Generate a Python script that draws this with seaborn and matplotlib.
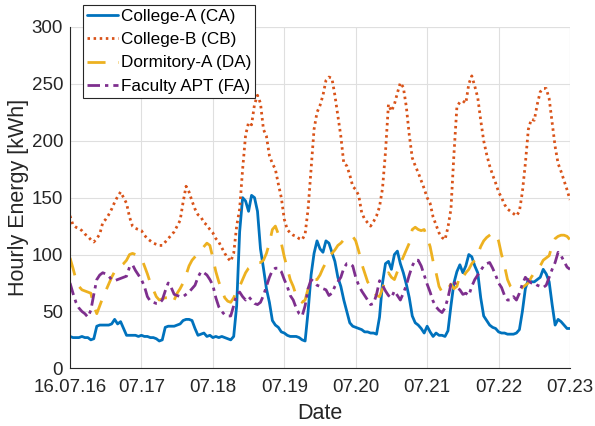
import numpy as np
import pandas as pd
import matplotlib
matplotlib.use("Agg")
import matplotlib.pyplot as plt
import seaborn as sns

# ---------------- data (hourly, 16.07.2016 00:00 .. 23.07.2016 00:00) ----------------
tick_labels = ["16.07.16", "07.17", "07.18", "07.19", "07.20", "07.21", "07.22", "07.23"]
y_ticks = [0, 50, 100, 150, 200, 250, 300]

college_a = [
    28, 27, 27, 27, 28, 27, 27, 25, 26, 37, 38, 38, 38, 38, 39, 43, 39, 41, 35, 29, 29, 29, 29, 28,
    29, 28, 28, 27, 27, 26, 24, 25, 36, 37, 37, 37, 38, 39, 42, 43, 43, 42, 35, 29, 30, 31, 28, 29,
    27, 28, 27, 28, 27, 26, 25, 28, 55, 120, 150, 147, 138, 152, 150, 138, 105, 88, 70, 58, 42, 38, 36, 32,
    31, 29, 28, 28, 28, 27, 25, 24, 50, 82, 101, 112, 105, 102, 112, 110, 102, 94, 80, 72, 60, 50, 40, 37,
    36, 35, 34, 32, 32, 31, 31, 30, 45, 75, 92, 94, 87, 100, 103, 92, 84, 74, 62, 46, 40, 38, 35, 31,
    37, 32, 28, 31, 29, 29, 28, 33, 55, 75, 85, 91, 84, 90, 100, 98, 90, 84, 62, 46, 42, 38, 36, 35,
    32, 31, 31, 30, 30, 30, 31, 34, 50, 70, 78, 76, 76, 78, 80, 87, 83, 76, 56, 38, 43, 41, 38, 35,
    35,
]
college_b = [
    134, 126, 124, 123, 121, 118, 116, 113, 111, 114, 118, 128, 131, 135, 140, 146, 151, 155, 150, 145, 133, 125, 123, 122,
    121, 117, 114, 112, 110, 109, 108, 108, 111, 114, 117, 120, 125, 130, 146, 160, 155, 147, 140, 135, 133, 128, 126, 122,
    119, 114, 111, 106, 101, 97, 94, 101, 125, 140, 175, 205, 216, 214, 232, 240, 233, 210, 204, 187, 180, 175, 162, 150,
    131, 122, 119, 117, 116, 114, 113, 118, 140, 175, 210, 225, 231, 240, 253, 256, 255, 240, 222, 204, 180, 178, 170, 160,
    157, 152, 137, 131, 128, 125, 129, 134, 142, 158, 190, 232, 226, 232, 242, 251, 247, 230, 205, 185, 178, 172, 165, 158,
    150, 145, 133, 126, 119, 115, 113, 124, 140, 188, 230, 234, 235, 233, 250, 257, 248, 238, 218, 200, 188, 178, 170, 163,
    155, 150, 144, 140, 138, 136, 134, 138, 155, 180, 210, 219, 218, 232, 243, 246, 246, 237, 216, 195, 180, 173, 165, 157,
    148,
]
dormitory_a = [
    97, 88, 78, 72, 69, 68, 67, 66, 55, 48, 55, 62, 68, 74, 80, 85, 88, 90, 92, 95, 100, 101, 100, 98,
    97, 90, 83, 75, 69, 63, 60, 61, 62, 62, 57, 60, 66, 70, 75, 82, 90, 95, 98, 101, 104, 107, 110, 108,
    97, 85, 76, 69, 62, 59, 58, 62, 68, 72, 78, 84, 88, 90, 92, 93, 93, 95, 101, 110, 122, 125, 118, 110,
    98, 88, 78, 72, 64, 60, 58, 60, 70, 78, 78, 78, 82, 88, 93, 98, 101, 104, 108, 110, 113, 115, 116, 116,
    112, 103, 92, 84, 76, 72, 67, 64, 63, 70, 78, 84, 80, 78, 85, 92, 98, 104, 110, 122, 124, 122, 121, 122,
    115, 107, 94, 84, 72, 67, 66, 70, 74, 70, 72, 82, 80, 84, 87, 92, 95, 100, 107, 112, 115, 117, 119, 118,
    112, 100, 90, 78, 72, 69, 69, 69, 71, 73, 75, 80, 84, 87, 90, 95, 97, 99, 108, 114, 116, 117, 117, 116,
    113,
]
faculty_apt = [
    75, 66, 58, 53, 50, 48, 45, 51, 65, 78, 82, 84, 83, 81, 78, 77, 78, 79, 80, 81, 89, 91, 86, 82,
    78, 72, 63, 59, 58, 57, 57, 60, 68, 75, 71, 65, 64, 63, 63, 65, 67, 70, 73, 80, 85, 84, 82, 78,
    73, 62, 54, 50, 47, 46, 46, 55, 65, 67, 63, 60, 63, 60, 57, 56, 58, 64, 72, 80, 86, 88, 88, 85,
    78, 72, 64, 60, 53, 48, 46, 55, 70, 78, 76, 73, 72, 70, 69, 64, 66, 72, 76, 80, 88, 92, 92, 90,
    80, 73, 68, 64, 60, 56, 57, 65, 77, 73, 68, 64, 62, 68, 64, 60, 66, 73, 82, 90, 95, 95, 90, 82,
    74, 67, 59, 54, 51, 49, 53, 62, 74, 77, 71, 69, 65, 66, 64, 72, 78, 82, 86, 90, 92, 93, 88, 82,
    75, 71, 64, 60, 60, 63, 60, 66, 74, 80, 77, 75, 75, 73, 72, 71, 73, 80, 87, 93, 102, 99, 94, 89,
    87,
]

series_names = ["College-A (CA)", "College-B (CB)", "Dormitory-A (DA)", "Faculty APT (FA)"]
series_values = [college_a, college_b, dormitory_a, faculty_apt]

# ---------------- styling ----------------
sns.set_theme(style="white")
plt.rcParams["font.family"] = ["Liberation Sans", "DejaVu Sans"]

colors = ["#0072BD", "#D95319", "#EDB120", "#7E2F8E"]
styles = ["-", (0, (0.9, 1.3)), (0, (6.5, 4.5)), (0, (4.5, 1.8, 1.2, 1.8))]
widths = [2.0, 2.0, 2.0, 2.0]

hours = np.arange(len(college_a))
df = pd.DataFrame({"hour": np.tile(hours, 4),
                   "value": np.concatenate(series_values),
                   "series": np.repeat(series_names, len(hours))})

fig = plt.figure(figsize=(5.95, 4.26), dpi=100)
ax = fig.add_axes([70 / 595, 1 - 368.3 / 426, 500 / 595, 341.3 / 426])

for name, c, ls, lw in zip(series_names, colors, styles, widths):
    sub = df[df["series"] == name]
    sns.lineplot(data=sub, x="hour", y="value", ax=ax, color=c, linestyle=ls,
                 linewidth=lw, label=name, estimator=None)

ax.set_xlim(0, 168)
ax.set_ylim(0, 300)
ax.set_xticks(np.arange(0, 169, 24))
ax.set_xticklabels(tick_labels)
ax.set_yticks(y_ticks)
ax.set_xlabel("Date", fontsize=15.5, color="#262626", labelpad=5)
ax.set_ylabel("Hourly Energy [kWh]", fontsize=15.5, color="#262626", labelpad=2)
ax.tick_params(axis="both", direction="in", length=5, width=0.8, colors="#262626",
               labelsize=13.5, top=False, right=False)
ax.tick_params(axis="x", pad=8)
ax.tick_params(axis="y", pad=5)
ax.grid(True, color="#dfdfdf", linewidth=0.8)
ax.set_axisbelow(True)
for s in ["top", "right"]:
    ax.spines[s].set_visible(False)
for s in ["left", "bottom"]:
    ax.spines[s].set_color("#262626")
    ax.spines[s].set_linewidth(0.8)
ax.axhline(300, color="#dfdfdf", lw=0.8, zorder=0)
ax.axvline(168, color="#dfdfdf", lw=0.8, zorder=0)

leg = ax.legend(loc="upper left", bbox_to_anchor=(0.026, 1.065), borderaxespad=0,
                fontsize=12.3, frameon=True, fancybox=False, handlelength=1.8,
                handletextpad=0.15, labelspacing=0.48, borderpad=0.25)
leg.get_frame().set_edgecolor("#262626")
leg.get_frame().set_linewidth(0.8)
leg.get_frame().set_alpha(1)
for t in leg.get_texts():
    t.set_color("black")

fig.savefig("out.png", dpi=100)
